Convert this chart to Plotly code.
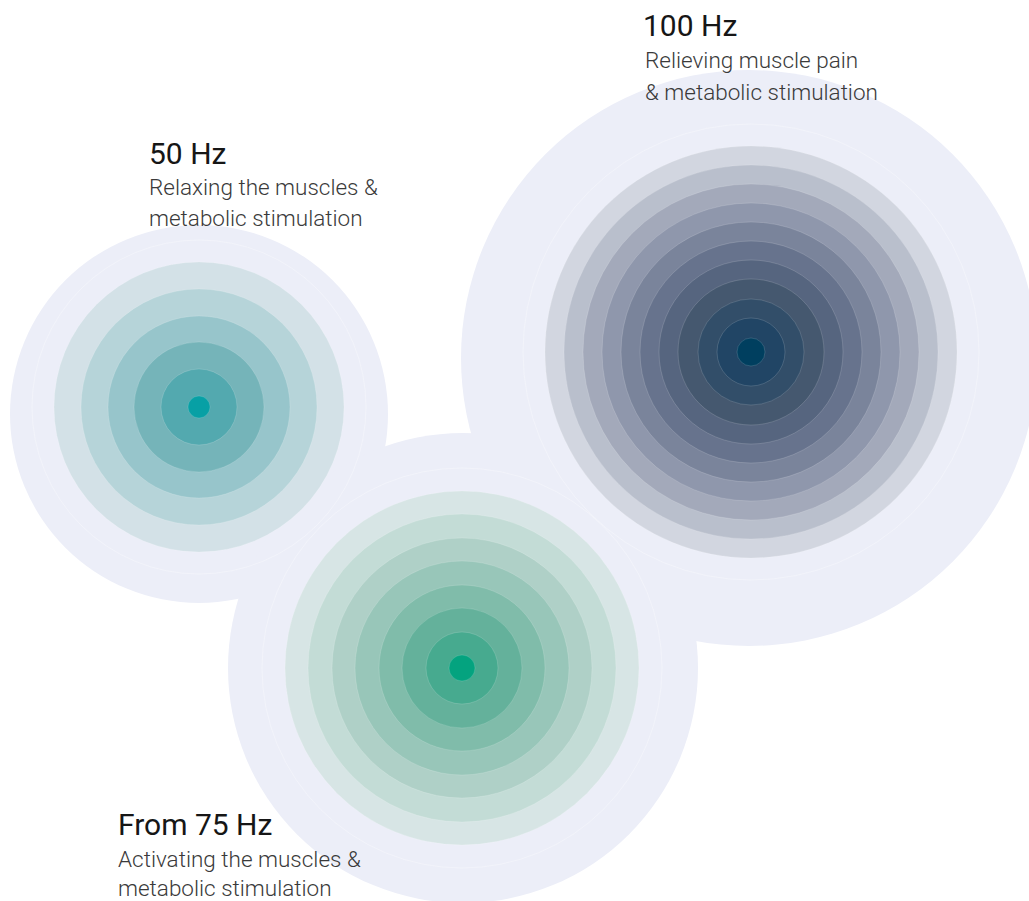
import plotly.graph_objects as go

# ---- data ----
titles = ["50 Hz", "From 75 Hz", "100 Hz"]
subtitle_line1 = ["Relaxing the muscles &", "Activating the muscles &", "Relieving muscle pain"]
subtitle_line2 = ["metabolic stimulation", "metabolic stimulation", "& metabolic stimulation"]

center_x = [199, 462, 751]
center_y = [407, 668, 352]

halo_x = [199, 463, 749]
halo_y = [414, 668, 358]
halo_r = [189, 235, 288]
halo_line_r = [167, 200, 228]

rings_50 = [145, 118, 91, 65, 38, 11]
rings_75 = [177, 154, 130, 107, 83, 60, 36, 13]
rings_100 = [206, 187, 168, 149, 130, 111, 92, 73, 53, 34, 14]

colors_50 = ["#d3e1e7", "#b6d4d9", "#97c5cb", "#75b4b9", "#53a9af", "#07a0a5"]
colors_75 = ["#d7e5e5", "#c3dcd6", "#afd0c7", "#98c6b9", "#80bcaa", "#64b19b",
             "#47aa8f", "#04a37f"]
colors_100 = ["#d2d6e0", "#b9bfcc", "#a3a9ba", "#8f97ac", "#7a849b", "#67738d",
              "#56657f", "#45586f", "#324e69", "#214565", "#003f5f"]

title_x = [147, 116, 641]
title_y = [153, 824, 25]
sub_x = [147, 116, 643]
sub1_y = [187, 859, 60]
sub2_y = [218, 888, 92]

halo_color = "#eceef8"
W, H = 1029, 901

rings = [rings_50, rings_75, rings_100]
colors = [colors_50, colors_75, colors_100]

fig = go.Figure()
# invisible trace to establish axes
fig.add_trace(go.Scatter(x=center_x, y=center_y, mode="markers",
                         marker=dict(size=1, opacity=0), hoverinfo="skip",
                         showlegend=False))

shapes = []
for i in range(3):
    r = halo_r[i]
    shapes.append(dict(type="circle", xref="x", yref="y",
                       x0=halo_x[i] - r, x1=halo_x[i] + r,
                       y0=halo_y[i] - r, y1=halo_y[i] + r,
                       fillcolor=halo_color, line=dict(width=0), layer="below"))
for i in range(3):
    r = halo_line_r[i]
    shapes.append(dict(type="circle", xref="x", yref="y",
                       x0=center_x[i] - r, x1=center_x[i] + r,
                       y0=center_y[i] - r, y1=center_y[i] + r,
                       fillcolor="rgba(0,0,0,0)",
                       line=dict(width=1, color="rgba(255,255,255,0.3)"),
                       layer="below"))
for i in range(3):
    for r, c in zip(rings[i], colors[i]):
        shapes.append(dict(type="circle", xref="x", yref="y",
                           x0=center_x[i] - r, x1=center_x[i] + r,
                           y0=center_y[i] - r, y1=center_y[i] + r,
                           fillcolor=c,
                           line=dict(width=0.6, color="rgba(255,255,255,0.25)"),
                           layer="below"))

annotations = []
for i in range(3):
    annotations.append(dict(x=title_x[i], y=title_y[i], xref="x", yref="y",
                            text=titles[i], showarrow=False,
                            xanchor="left", yanchor="middle",
                            font=dict(family="Roboto", size=30, color="#161616",
                                      weight=400)))
    annotations.append(dict(x=sub_x[i], y=sub1_y[i], xref="x", yref="y",
                            text=subtitle_line1[i], showarrow=False,
                            xanchor="left", yanchor="middle",
                            font=dict(family="Roboto", size=22.5, color="#3a3a3a",
                                      weight=300)))
    annotations.append(dict(x=sub_x[i], y=sub2_y[i], xref="x", yref="y",
                            text=subtitle_line2[i], showarrow=False,
                            xanchor="left", yanchor="middle",
                            font=dict(family="Roboto", size=22.5, color="#3a3a3a",
                                      weight=300)))

fig.update_layout(
    width=W, height=H,
    margin=dict(l=0, r=0, t=0, b=0),
    paper_bgcolor="white", plot_bgcolor="white",
    xaxis=dict(range=[0, W], visible=False, fixedrange=True),
    yaxis=dict(range=[H, 0], visible=False, fixedrange=True),
    shapes=shapes, annotations=annotations, showlegend=False,
)

fig.write_html("out.html", config={"displayModeBar": False},
               post_script="document.body.style.margin='0';document.body.style.overflow='hidden';")
